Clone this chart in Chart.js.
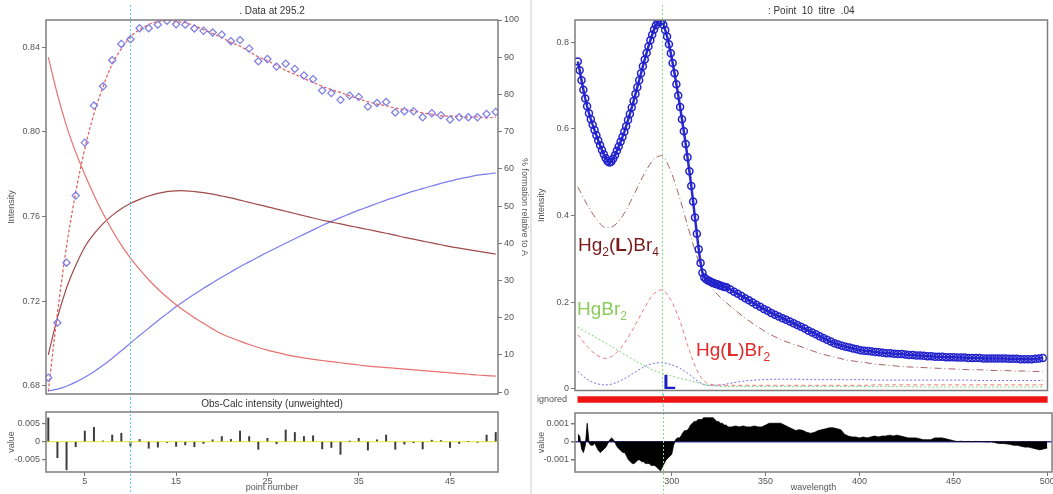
<!DOCTYPE html>
<html>
<head>
<meta charset="utf-8">
<script src="https://cdn.jsdelivr.net/npm/chart.js@4.4.0/dist/chart.umd.min.js"></script>
<style>
  body { margin: 0; background: #fff; font-family: "Liberation Sans", Arial, sans-serif; }
  #wrap { position: relative; width: 1053px; height: 494px; overflow: hidden; background: #fff; }
  #wrap canvas { position: absolute; display: block; }
  #sep { position: absolute; left: 530px; top: 0; width: 2px; height: 494px; background: #e6e6e6; }
  .lbl { position: absolute; font-size: 19px; line-height: 19px; white-space: nowrap; }
  .lbl sub { font-size: 12px; line-height: 0; vertical-align: -5px; }
</style>
</head>
<body>
<div id="wrap">
  <canvas id="titrTop" width="530" height="400" style="left:0;top:0"></canvas>
  <canvas id="titrRes" width="530" height="96" style="left:0;top:398px"></canvas>
  <div id="sep"></div>
  <canvas id="specTop" width="521" height="396" style="left:532px;top:0"></canvas>
  <canvas id="specIgn" width="521" height="11" style="left:532px;top:394px"></canvas>
  <canvas id="specRes" width="521" height="89" style="left:532px;top:405px"></canvas>

  <div class="lbl" style="left:578px;top:235px;color:#7b1c1c">Hg<sub>2</sub>(<b>L</b>)Br<sub>4</sub></div>
  <div class="lbl" style="left:577px;top:299px;color:#8ccb5e">HgBr<sub>2</sub></div>
  <div class="lbl" style="left:696px;top:340px;color:#e22b2b">Hg(<b>L</b>)Br<sub>2</sub></div>
  <div class="lbl" style="left:663px;top:372px;color:#1f1fc8;font-weight:bold;font-size:21px">L</div>
</div>

<script>
// ---- left panel: titration data at 295.2 nm ----
const pointNumbers = Array.from({ length: 50 }, (_, i) => i + 1);

const obsIntensity = [
  0.6839, 0.7099, 0.7382, 0.7699, 0.7949, 0.8124, 0.8215, 0.8338, 0.8415, 0.8437,
  0.8489, 0.8489, 0.8506, 0.8524, 0.8508, 0.8506, 0.8488, 0.8477, 0.8469, 0.8459,
  0.8428, 0.8433, 0.8393, 0.8333, 0.8344, 0.8308, 0.8322, 0.8297, 0.8266, 0.8249,
  0.8195, 0.8183, 0.8151, 0.8171, 0.8165, 0.8119, 0.8136, 0.8141, 0.8091, 0.8097,
  0.8097, 0.8069, 0.8088, 0.8078, 0.8058, 0.8069, 0.8069, 0.8069, 0.8084, 0.8094
];
const calcIntensity = [
  0.6774, 0.7143, 0.7459, 0.7713, 0.7920, 0.8085, 0.8213, 0.8320, 0.8392, 0.8449,
  0.8483, 0.8507, 0.8521, 0.8526, 0.8521, 0.8515, 0.8502, 0.8482, 0.8464, 0.8445,
  0.8422, 0.8404, 0.8379, 0.8354, 0.8335, 0.8314, 0.8290, 0.8272, 0.8252, 0.8233,
  0.8215, 0.8199, 0.8186, 0.8170, 0.8156, 0.8142, 0.8131, 0.8123, 0.8112, 0.8104,
  0.8100, 0.8089, 0.8084, 0.8075, 0.8074, 0.8074, 0.8069, 0.8071, 0.8066, 0.8069
];
const residIntensity = [
  0.0065, -0.0044, -0.0077, -0.0014, 0.0029, 0.0039, 0.0002, 0.0018, 0.0023, -0.0012,
  0.0006, -0.0018, -0.0015, -0.0002, -0.0013, -0.0009, -0.0014, -0.0005, 0.0005, 0.0014,
  0.0006, 0.0029, 0.0014, -0.0021, 0.0009, -0.0006, 0.0032, 0.0025, 0.0014, 0.0016,
  -0.0020, -0.0016, -0.0035, 0.0001, 0.0009, -0.0023, 0.0005, 0.0018, -0.0021, -0.0007,
  -0.0003, -0.0020, 0.0004, 0.0003, -0.0016, -0.0005, 0.0000, -0.0002, 0.0018, 0.0025
];
// % formation relative to A
const pctFree = [
  90, 80, 71.5, 64.5, 58.5, 53, 48, 43.5, 39.5, 36,
  33, 30.2, 27.7, 25.5, 23.5, 21.7, 20, 18.5, 17, 15.6,
  14.6, 13.7, 12.8, 12, 11.3, 10.7, 10.1, 9.6, 9.2, 8.8,
  8.5, 8.2, 7.9, 7.6, 7.3, 7, 6.8, 6.6, 6.4, 6.2,
  6, 5.8, 5.6, 5.4, 5.2, 5, 4.8, 4.6, 4.45, 4.3
];
const pctDinuclear = [
  10, 20, 28, 34, 39, 42.5, 45.3, 47.5, 49.3, 50.7,
  51.8, 52.7, 53.4, 53.9, 54.1, 54.1, 53.9, 53.6, 53.2, 52.7,
  52.2, 51.6, 51, 50.4, 49.8, 49.2, 48.6, 48, 47.4, 46.8,
  46.2, 45.7, 45.2, 44.7, 44.2, 43.7, 43.2, 42.7, 42.2, 41.6,
  41.1, 40.6, 40.1, 39.6, 39.1, 38.7, 38.3, 37.9, 37.5, 37.1
];
const pctMononuclear = [
  0.3, 0.8, 1.6, 2.7, 4.0, 5.5, 7.2, 9.1, 11.1, 13.2,
  15.2, 17.2, 19.2, 21.1, 23.0, 24.7, 26.3, 27.9, 29.4, 30.9,
  32.3, 33.7, 35.0, 36.3, 37.6, 38.8, 40.0, 41.2, 42.4, 43.6,
  44.8, 45.9, 46.9, 47.9, 48.9, 49.8, 50.7, 51.6, 52.4, 53.2,
  54.0, 54.7, 55.4, 56.1, 56.7, 57.3, 57.8, 58.3, 58.6, 58.9
];
const intensityTicks = [0.68, 0.72, 0.76, 0.80, 0.84];
const pctTicks = [0, 10, 20, 30, 40, 50, 60, 70, 80, 90, 100];
const residTicksLeft = [-0.005, 0, 0.005];
const pointTicks = [5, 15, 25, 35, 45];

// ---- right panel: spectrum of point 10 ----
const wavelengths = [];
for (let w = 250; w <= 330; w++) wavelengths.push(w);
for (let w = 332; w <= 500; w += 2) wavelengths.push(w);

const obsSpectrum = [
  0.755, 0.735, 0.712, 0.690, 0.670, 0.652, 0.636, 0.622, 0.609, 0.597,
  0.585, 0.573, 0.562, 0.551, 0.541, 0.532, 0.525, 0.522, 0.524, 0.531,
  0.539, 0.549, 0.559, 0.570, 0.581, 0.593, 0.606, 0.620, 0.634, 0.649,
  0.664, 0.680, 0.696, 0.712, 0.728, 0.744, 0.760, 0.775, 0.790, 0.804,
  0.817, 0.829, 0.839, 0.846, 0.849, 0.847, 0.840, 0.828, 0.813, 0.795,
  0.774, 0.752, 0.728, 0.703, 0.677, 0.650, 0.622, 0.594, 0.565, 0.534,
  0.502, 0.468, 0.432, 0.395, 0.358, 0.322, 0.290, 0.268, 0.257, 0.253,
  0.250, 0.248, 0.246, 0.244, 0.242, 0.241, 0.239, 0.238, 0.236, 0.235,
  0.234,
  0.229, 0.224, 0.219, 0.214, 0.209, 0.204, 0.199, 0.194, 0.189, 0.184,
  0.180, 0.175, 0.171, 0.167, 0.163, 0.159, 0.155, 0.151, 0.147, 0.143,
  0.139, 0.134, 0.130, 0.126, 0.121, 0.117, 0.113, 0.109, 0.105, 0.102,
  0.099, 0.097, 0.095, 0.093, 0.091, 0.089, 0.088, 0.087, 0.086, 0.085,
  0.084, 0.083, 0.082, 0.082, 0.081, 0.080, 0.080, 0.079, 0.078, 0.078,
  0.077, 0.077, 0.076, 0.075, 0.075, 0.074, 0.074, 0.074, 0.073, 0.073,
  0.073, 0.072, 0.072, 0.072, 0.071, 0.071, 0.071, 0.071, 0.070, 0.070,
  0.070, 0.070, 0.070, 0.070, 0.070, 0.069, 0.069, 0.069, 0.068, 0.068,
  0.068, 0.068, 0.069, 0.070, 0.071
];
const residSpectrum = [
  0.0004, 0.0003, -0.0004, -0.0006, -0.0002, 0.0010, -0.0001, -0.0002, -0.0002, -0.0001,
  -0.0003, -0.0005, -0.0006, -0.0005, -0.0004, -0.0003, -0.0001, 0.0001, 0.0002, 0.0001,
  -0.0001, -0.0003, -0.0004, -0.0005, -0.0006, -0.0006, -0.0008, -0.0010, -0.0011, -0.0012,
  -0.0012, -0.0011, -0.0010, -0.0010, -0.0011, -0.0011, -0.0012, -0.0012, -0.0012, -0.0013,
  -0.0013, -0.0013, -0.0014, -0.0015, -0.0016, -0.0014, -0.0012, -0.0010, -0.0009, -0.0008,
  -0.0007, -0.0002, 0.0001, 0.0002, 0.0002, 0.0003, 0.0005, 0.0006, 0.0006, 0.0007,
  0.0009, 0.0010, 0.0011, 0.0011, 0.0012, 0.0012, 0.0012, 0.0013, 0.0013, 0.0013,
  0.0013, 0.0013, 0.0013, 0.0012, 0.0011, 0.0011, 0.0010, 0.0010, 0.0009, 0.0009,
  0.0008,
  0.0008, 0.00085, 0.0008, 0.00085, 0.0008, 0.0008, 0.00085, 0.0008, 0.0008, 0.0009,
  0.0010, 0.0010, 0.0010, 0.0010, 0.0009, 0.0008, 0.0007, 0.0006, 0.00065, 0.0006,
  0.0005, 0.00045, 0.0005, 0.0006, 0.00065, 0.0007, 0.00075, 0.00075, 0.0007, 0.00065,
  0.0004, 0.0003, 0.00025, 0.00025, 0.0002, 0.00025, 0.0002, 0.00025, 0.0003, 0.00025,
  0.0003, 0.0003, 0.00035, 0.0003, 0.00035, 0.0003, 0.00025, 0.0002, 0.0002, 0.0002,
  0.00015, 0.0001, 0.0001, 0.0001, 0.0002, 0.0002, 0.0002, 0.00015, 0.0001, 0.00005,
  0, 0.00002, 0, 0.00001, 0, 0.00001, 0, 0, -0.00002, 0,
  -0.00005, -0.0001, -0.0001, -0.00012, -0.00015, -0.0002, -0.0002, -0.00025, -0.0003, -0.0003,
  -0.00035, -0.0004, -0.00045, -0.0004, -0.00035
];

// species spectra, every 5 nm
const speciesWl = Array.from({ length: 51 }, (_, i) => 250 + i * 5);
const specHg2LBr4 = [
  0.466, 0.425, 0.392, 0.372, 0.378, 0.405, 0.446, 0.490, 0.525, 0.538,
  0.502, 0.437, 0.362, 0.293, 0.245, 0.218, 0.198, 0.180, 0.163, 0.148,
  0.134, 0.122, 0.112, 0.104, 0.097, 0.089, 0.082, 0.076, 0.071, 0.066,
  0.063, 0.060, 0.057, 0.055, 0.053, 0.051, 0.050, 0.049, 0.048, 0.047,
  0.046, 0.045, 0.044, 0.044, 0.043, 0.042, 0.042, 0.041, 0.041, 0.040, 0.040
];
const specHgLBr2 = [
  0.125, 0.098, 0.078, 0.070, 0.080, 0.105, 0.140, 0.180, 0.215, 0.228,
  0.205, 0.155, 0.088, 0.035, 0.012, 0.009, 0.008, 0.008, 0.008, 0.008,
  0.008, 0.008, 0.008, 0.008, 0.008, 0.008, 0.008, 0.008, 0.008, 0.008,
  0.008, 0.008, 0.009, 0.009, 0.009, 0.009, 0.009, 0.009, 0.009, 0.009,
  0.009, 0.009, 0.009, 0.009, 0.009, 0.009, 0.009, 0.009, 0.009, 0.009, 0.009
];
const specHgBr2 = [
  0.142, 0.130, 0.118, 0.105, 0.093, 0.080, 0.067, 0.055, 0.044, 0.036,
  0.030, 0.024, 0.019, 0.013, 0.008, 0.006, 0.005, 0.005, 0.005, 0.005,
  0.005, 0.005, 0.005, 0.005, 0.005, 0.005, 0.005, 0.005, 0.005, 0.005,
  0.005, 0.005, 0.005, 0.005, 0.005, 0.005, 0.005, 0.004, 0.004, 0.004,
  0.004, 0.004, 0.004, 0.004, 0.004, 0.004, 0.004, 0.004, 0.004, 0.004, 0.004
];
const specL = [
  0.040, 0.022, 0.012, 0.009, 0.013, 0.023, 0.036, 0.049, 0.058, 0.060,
  0.056, 0.047, 0.033, 0.016, 0.008, 0.008, 0.011, 0.015, 0.018, 0.020,
  0.021, 0.022, 0.022, 0.022, 0.022, 0.021, 0.021, 0.021, 0.021, 0.021,
  0.021, 0.021, 0.020, 0.020, 0.020, 0.020, 0.020, 0.020, 0.020, 0.020,
  0.020, 0.020, 0.020, 0.019, 0.019, 0.019, 0.019, 0.019, 0.019, 0.019, 0.019
];
const specTicks = [0, 0.2, 0.4, 0.6, 0.8];
const residTicksRight = [-0.001, 0, 0.001];
const wlTicks = [300, 350, 400, 450, 500];

// ---- helpers ----
const FONT = '"Liberation Sans", Arial, sans-serif';
Chart.defaults.font.family = FONT;
Chart.defaults.color = '#555';
Chart.defaults.animation = false;

const xy = (xs, ys) => xs.map((x, i) => ({ x: x, y: ys[i] }));
const setTicks = vals => s => { s.ticks = vals.map(v => ({ value: v })); };
const fixWidth = w => s => { s.width = w; s.paddingTop = 0; s.paddingBottom = 0; };
const fixHeight = h => s => { s.height = h; s.paddingLeft = 0; s.paddingRight = 0; };
const tickFont = { size: 9, family: FONT };
const titleFont = { size: 9, family: FONT };
const noGrid = { drawOnChartArea: false, drawTicks: true, tickLength: 4, color: '#777' };

// dotted marker at the selected point / wavelength, across the whole canvas
const markerLine = {
  id: 'markerLine',
  afterDatasetsDraw(chart, args, opts) {
    if (opts.value === undefined) return;
    const x = Math.round(chart.scales.x.getPixelForValue(opts.value)) + 0.5;
    const ctx = chart.ctx;
    ctx.save();
    ctx.strokeStyle = opts.color;
    ctx.lineWidth = 1;
    ctx.setLineDash([2, 2]);
    ctx.beginPath();
    ctx.moveTo(x, opts.top || 0);
    ctx.lineTo(x, chart.height);
    ctx.stroke();
    ctx.restore();
  }
};
// grey box round the plot area
const frame = {
  id: 'frame',
  afterDraw(chart, args, opts) {
    if (!opts.color) return;
    const a = chart.chartArea;
    const ctx = chart.ctx;
    ctx.save();
    ctx.strokeStyle = opts.color;
    ctx.lineWidth = 1.5;
    ctx.strokeRect(a.left, a.top, a.right - a.left, a.bottom - a.top);
    ctx.restore();
  }
};
Chart.register(markerLine, frame);

const basePlugins = (extra) => Object.assign({
  legend: { display: false },
  tooltip: { enabled: false },
  frame: { color: '#7d7d7d' }
}, extra);

// ---- left top: intensity and % formation vs point number ----
new Chart(document.getElementById('titrTop'), {
  type: 'line',
  data: {
    datasets: [
      { data: xy(pointNumbers, obsIntensity), yAxisID: 'y', showLine: false,
        pointStyle: 'rectRot', pointRadius: 3.6, pointBorderWidth: 1.2,
        borderColor: '#7b7be6', backgroundColor: 'rgba(0,0,0,0)' },
      { data: xy(pointNumbers, calcIntensity), yAxisID: 'y', borderColor: '#e25a5a',
        borderDash: [3, 2], borderWidth: 1.2, pointRadius: 0, tension: 0.35 },
      { data: xy(pointNumbers, pctFree), yAxisID: 'y2', borderColor: '#e87070',
        borderWidth: 1.2, pointRadius: 0, tension: 0.35 },
      { data: xy(pointNumbers, pctDinuclear), yAxisID: 'y2', borderColor: '#a04a4a',
        borderWidth: 1.2, pointRadius: 0, tension: 0.35 },
      { data: xy(pointNumbers, pctMononuclear), yAxisID: 'y2', borderColor: '#7c7cf0',
        borderWidth: 1.2, pointRadius: 0, tension: 0.35 }
    ]
  },
  options: {
    responsive: false, devicePixelRatio: 1,
    layout: { padding: { bottom: 6 } },
    scales: {
      x: { type: 'linear', min: 0.75, max: 50.25, display: false },
      y: { min: 0.6762, max: 0.8528, afterBuildTicks: setTicks(intensityTicks), afterFit: fixWidth(46),
           ticks: { font: tickFont, padding: 2, callback: v => v.toFixed(2) },
           grid: noGrid, border: { display: false },
           title: { display: true, text: 'Intensity', font: titleFont, padding: { top: 6, bottom: 0 } } },
      y2: { position: 'right', min: -0.5, max: 100, afterBuildTicks: setTicks(pctTicks), afterFit: fixWidth(32),
            ticks: { font: tickFont, padding: 2 }, grid: noGrid, border: { display: false },
            title: { display: true, text: '% formation relative to A', font: titleFont, padding: { top: 0, bottom: 5 } } }
    },
    plugins: basePlugins({
      title: { display: true, text: '. Data at 295.2', fullSize: false, color: '#333',
               font: { size: 10, family: FONT, weight: 'normal' }, padding: { top: 5, bottom: 3 } },
      markerLine: { value: 10, color: '#5ad0e0', top: 5 }
    })
  }
});

// ---- left bottom: residuals ----
new Chart(document.getElementById('titrRes'), {
  type: 'bar',
  data: {
    datasets: [
      { data: xy(pointNumbers, residIntensity), backgroundColor: '#3a3a3a', barThickness: 1.3 }
    ]
  },
  options: {
    responsive: false, devicePixelRatio: 1,
    layout: { padding: { right: 32 } },
    scales: {
      x: { type: 'linear', min: 0.75, max: 50.25, offset: false, afterBuildTicks: setTicks(pointTicks),
           afterFit: fixHeight(22), ticks: { font: tickFont, padding: 0 },
           grid: Object.assign({}, noGrid, { offset: false }), border: { display: false },
           title: { display: true, text: 'point number', font: titleFont, padding: { top: 0, bottom: 1 } } },
      y: { min: -0.0083, max: 0.0081, afterBuildTicks: setTicks(residTicksLeft), afterFit: fixWidth(46),
           ticks: { font: tickFont, padding: 2, callback: v => v === 0 ? '0' : String(v) },
           grid: { drawOnChartArea: true, drawTicks: true, tickLength: 4, tickColor: '#777', lineWidth: 1.2,
                   color: c => c.tick && c.tick.value === 0 ? '#f0ea5a' : 'rgba(0,0,0,0)' },
           border: { display: false },
           title: { display: true, text: 'value', font: titleFont, padding: { top: 6, bottom: 0 } } }
    },
    plugins: basePlugins({
      title: { display: true, text: 'Obs-Calc intensity (unweighted)', fullSize: false, color: '#333',
               font: { size: 10, family: FONT, weight: 'normal' }, padding: { top: 0, bottom: 2 } },
      markerLine: { value: 10, color: '#5ad0e0' }
    })
  }
});

// ---- right top: spectrum and species ----
const speciesLine = (ys, color, dash) => ({
  data: xy(speciesWl, ys), borderColor: color, borderDash: dash, borderWidth: 1,
  pointRadius: 0, cubicInterpolationMode: 'monotone'
});
new Chart(document.getElementById('specTop'), {
  type: 'line',
  data: {
    datasets: [
      { data: xy(wavelengths, obsSpectrum), showLine: true, borderColor: '#2a2acc', borderWidth: 2.5,
        pointStyle: 'circle', pointRadius: 3.5, pointBorderWidth: 1.5,
        pointBorderColor: '#2222cc', pointBackgroundColor: 'rgba(0,0,0,0)' },
      speciesLine(specHg2LBr4, '#a86060', [7, 3, 1, 3]),
      speciesLine(specHgLBr2, '#f07a7a', [4, 3]),
      speciesLine(specHgBr2, '#7ad67a', [2, 2]),
      speciesLine(specL, '#6f6fe2', [2, 2])
    ]
  },
  options: {
    responsive: false, devicePixelRatio: 1,
    layout: { padding: { bottom: 2, right: 1 } },
    scales: {
      x: { type: 'linear', min: 248.5, max: 502.5, display: false },
      y: { min: -0.004, max: 0.851, afterBuildTicks: setTicks(specTicks), afterFit: fixWidth(43),
           ticks: { font: tickFont, padding: 2, callback: v => String(v) },
           grid: noGrid, border: { display: false },
           title: { display: true, text: 'Intensity', font: titleFont, padding: { top: 4, bottom: 0 } } }
    },
    plugins: basePlugins({
      title: { display: true, text: ': Point  10  titre  .04', fullSize: false, color: '#333',
               font: { size: 10, family: FONT, weight: 'normal' }, padding: { top: 5, bottom: 3 } },
      markerLine: { value: 295.2, color: '#7ee07e', top: 5 }
    })
  }
});

// ---- right: ignored range bar ----
new Chart(document.getElementById('specIgn'), {
  type: 'bar',
  data: {
    labels: ['ignored'],
    datasets: [ { data: [[250, 500]], backgroundColor: '#ee1414', barThickness: 6 } ]
  },
  options: {
    responsive: false, devicePixelRatio: 1, indexAxis: 'y',
    layout: { padding: { right: 1 } },
    scales: {
      x: { type: 'linear', min: 248.5, max: 502.5, display: false },
      y: { afterFit: fixWidth(43), ticks: { font: tickFont, padding: 0 },
           grid: { display: false }, border: { display: false } }
    },
    plugins: basePlugins({
      frame: { color: null },
      markerLine: { value: 295.2, color: '#7ee07e' }
    })
  }
});

// ---- right bottom: residual spectrum ----
new Chart(document.getElementById('specRes'), {
  type: 'line',
  data: {
    datasets: [
      { data: xy(wavelengths, residSpectrum), fill: 'origin', backgroundColor: '#000',
        borderColor: '#000', borderWidth: 0.8, pointRadius: 0 }
    ]
  },
  options: {
    responsive: false, devicePixelRatio: 1,
    layout: { padding: { top: 8, right: 1 } },
    scales: {
      x: { type: 'linear', min: 248.5, max: 502.5, afterBuildTicks: setTicks(wlTicks), afterFit: fixHeight(22),
           ticks: { font: tickFont, padding: 0 }, grid: noGrid, border: { display: false },
           title: { display: true, text: 'wavelength', font: titleFont, padding: { top: 0, bottom: 1 } } },
      y: { min: -0.00166, max: 0.00156, z: 1, afterBuildTicks: setTicks(residTicksRight), afterFit: fixWidth(43),
           ticks: { font: tickFont, padding: 2, callback: v => v === 0 ? '0' : String(v) },
           grid: { drawOnChartArea: true, drawTicks: true, tickLength: 4, tickColor: '#777', lineWidth: 1.5,
                   color: c => c.tick && c.tick.value === 0 ? '#3a3aaa' : 'rgba(0,0,0,0)' },
           border: { display: false },
           title: { display: true, text: 'value', font: titleFont, padding: { top: 4, bottom: 0 } } }
    },
    plugins: basePlugins({
      markerLine: { value: 295.2, color: '#7ee07e' }
    })
  }
});
</script>
</body>
</html>
